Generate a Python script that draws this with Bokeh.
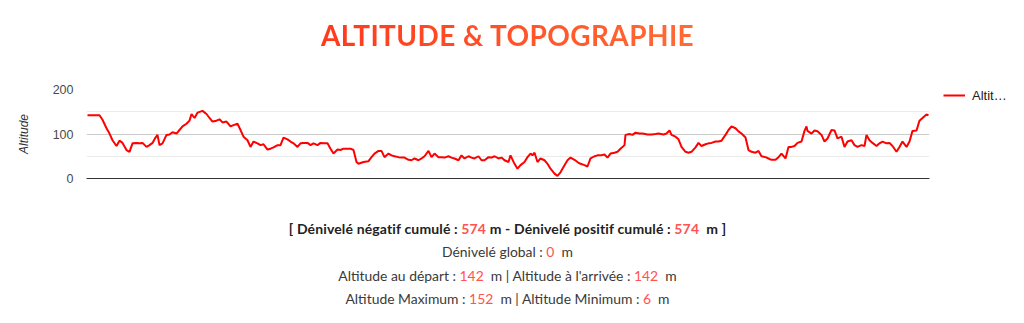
from bokeh.plotting import figure
from bokeh.models import Div, Legend, LegendItem, FixedTicker, Range1d
from bokeh.layouts import column
from bokeh.embed import file_html
from bokeh.resources import INLINE

title_text = "ALTITUDE & TOPOGRAPHIE"
series_name = "Altit…"
y_axis_label = "Altitude"
y_ticks = [0, 100, 200]
y_minor_ticks = [50, 150]

distance_km = [
    0.00, 0.35, 0.60, 0.75, 0.95, 1.10, 1.25, 1.45, 1.60, 1.75, 1.95, 2.10, 2.25, 2.45, 2.60, 2.75,
    2.95, 3.10, 3.25, 3.40, 3.50, 3.60, 3.75, 3.95, 4.10, 4.25, 4.45, 4.60, 4.75, 4.95, 5.10, 5.20,
    5.35, 5.50, 5.75, 5.95, 6.10, 6.25, 6.45, 6.60, 6.75, 6.95, 7.15, 7.30, 7.50, 7.65, 7.80, 8.00,
    8.15, 8.30, 8.50, 8.65, 8.80, 9.00, 9.15, 9.30, 9.50, 9.65, 9.80, 10.00, 10.15, 10.30, 10.50,
    10.65, 10.80, 11.00, 11.15, 11.30, 11.50, 11.65, 11.80, 12.00, 12.15, 12.30, 12.50, 12.65, 12.80,
    13.00, 13.15, 13.30, 13.45, 13.55, 13.80, 14.05, 14.20, 14.35, 14.55, 14.70, 14.85, 15.05, 15.20,
    15.35, 15.55, 15.70, 15.85, 16.05, 16.20, 16.35, 16.55, 16.70, 16.85, 17.05, 17.20, 17.35, 17.55,
    17.70, 17.85, 18.05, 18.20, 18.35, 18.55, 18.70, 18.85, 19.05, 19.20, 19.35, 19.55, 19.70, 19.85,
    20.05, 20.20, 20.35, 20.55, 20.70, 20.85, 21.05, 21.15, 21.35, 21.50, 21.65, 21.85, 22.00, 22.15,
    22.25, 22.35, 22.50, 22.65, 22.85, 23.00, 23.15, 23.35, 23.50, 23.65, 23.85, 24.00, 24.15, 24.35,
    24.50, 24.65, 24.85, 25.00, 25.15, 25.35, 25.50, 25.65, 25.85, 26.00, 26.15, 26.35, 26.50, 26.65,
    26.85, 26.90, 27.10, 27.25, 27.40, 27.60, 27.75, 28.00, 28.20, 28.40, 28.55, 28.80, 28.95, 29.10,
    29.20, 29.40, 29.55, 29.70, 29.90, 30.05, 30.20, 30.40, 30.55, 30.70, 30.90, 31.05, 31.20, 31.40,
    31.55, 31.70, 31.90, 32.05, 32.20, 32.40, 32.55, 32.70, 32.90, 33.05, 33.20, 33.40, 33.55, 33.70,
    33.90, 34.05, 34.20, 34.40, 34.55, 34.70, 34.90, 35.05, 35.20, 35.35, 35.50, 35.70, 35.85, 35.95,
    36.00, 36.20, 36.35, 36.50, 36.70, 36.85, 37.00, 37.20, 37.35, 37.50, 37.70, 37.85, 38.00, 38.20,
    38.35, 38.50, 38.70, 38.85, 38.95, 39.10, 39.25, 39.45, 39.60, 39.75, 39.95, 40.10, 40.25, 40.45,
    40.60, 40.75, 40.95, 41.10, 41.25, 41.45, 41.60, 41.75, 41.95, 42.05,
]

altitude_m = [
    142, 142, 142, 132, 113, 101, 86, 73, 85, 80, 64, 60, 79, 80, 79, 80,
    71, 75, 80, 92, 98, 75, 79, 98, 99, 104, 101, 109, 117, 123, 130, 145,
    136, 148, 152, 145, 136, 128, 130, 133, 126, 128, 117, 120, 123, 109, 94, 86,
    71, 83, 79, 75, 77, 65, 67, 70, 75, 75, 92, 88, 83, 79, 71,
    79, 80, 80, 75, 79, 75, 80, 79, 79, 67, 56, 65, 64, 67,
    67, 67, 64, 37, 33, 37, 39, 48, 56, 62, 62, 48, 56, 52,
    50, 48, 47, 47, 42, 41, 45, 41, 45, 50, 62, 48, 56, 48,
    48, 47, 50, 47, 45, 41, 52, 45, 50, 47, 45, 50, 41, 41,
    48, 47, 50, 45, 47, 41, 37, 52, 33, 22, 30, 37, 48, 56,
    52, 58, 37, 45, 41, 33, 22, 11, 6, 14, 30, 41, 47, 42,
    37, 33, 30, 27, 45, 50, 52, 52, 54, 47, 56, 58, 60, 67,
    75, 98, 100, 98, 103, 101, 101, 99, 99, 100, 101, 99, 101, 108,
    98, 94, 88, 71, 60, 58, 60, 70, 80, 73, 77, 79, 80, 83,
    83, 85, 98, 109, 117, 113, 106, 101, 92, 64, 60, 58, 62, 50,
    48, 45, 42, 42, 48, 56, 45, 71, 71, 73, 80, 83, 107, 117,
    107, 101, 108, 106, 98, 83, 90, 109, 108, 90, 94, 71, 83, 86,
    75, 71, 75, 73, 98, 86, 80, 73, 79, 83, 79, 80, 73, 60,
    71, 83, 71, 83, 107, 108, 130, 136, 144, 142,
]

denivele_negatif = 574
denivele_positif = 574
denivele_global = 0
altitude_depart = 142
altitude_arrivee = 142
altitude_max = 152
altitude_min = 6

RED = "#ff5252"
TXT = "#3a3a3a"

title_div = Div(
    text=(
        "<div style=\"width:1024px;height:70px;box-sizing:border-box;padding-right:9px;"
        "display:flex;align-items:center;justify-content:center;\">"
        "<span style=\"font-family:Lato;font-weight:700;font-size:28px;letter-spacing:0.4px;"
        "background:linear-gradient(90deg,#ff3a1c,#ff6b35);-webkit-background-clip:text;"
        "background-clip:text;color:transparent;display:inline-block;\">"
        + title_text.replace("&", "&amp;") + "</span></div>"
    ),
    width=1024, height=70, margin=0,
)

p = figure(
    width=None, height=None, frame_width=843, frame_height=89,
    output_backend="svg", toolbar_location=None,
    x_range=Range1d(-0.05, 42.1), y_range=Range1d(0, 200),
    min_border_left=86, min_border_right=95, min_border_top=19, min_border_bottom=32,
)
p.outline_line_color = None
p.background_fill_color = "white"
p.border_fill_color = "white"

r = p.line(distance_km, altitude_m, line_color="#ff0000", line_width=2)

p.xgrid.grid_line_color = None
p.xaxis.ticker = FixedTicker(ticks=[])
p.xaxis.major_tick_line_color = None
p.xaxis.minor_tick_line_color = None
p.xaxis.axis_line_color = "#333333"
p.xaxis.axis_line_width = 1

p.yaxis.ticker = FixedTicker(ticks=y_ticks, minor_ticks=y_minor_ticks)
p.yaxis.axis_line_color = None
p.yaxis.major_tick_line_color = None
p.yaxis.minor_tick_line_color = None
p.yaxis.major_label_text_font = "Liberation Sans"
p.yaxis.major_label_text_font_size = "12.5px"
p.yaxis.major_label_text_color = "#4a4a4a"
p.yaxis.major_label_standoff = 7
p.yaxis.axis_label = y_axis_label
p.yaxis.axis_label_text_font = "Liberation Sans"
p.yaxis.axis_label_text_font_style = "italic"
p.yaxis.axis_label_text_font_size = "12px"
p.yaxis.axis_label_text_color = "#333333"
p.yaxis.axis_label_standoff = 19

p.ygrid.grid_line_color = "#cccccc"
p.ygrid.minor_grid_line_color = "#ebebeb"

legend = Legend(
    items=[LegendItem(label=series_name, renderers=[r])],
    location=(14, 73), padding=0, margin=0, border_line_color=None,
    background_fill_alpha=0, glyph_width=22, label_standoff=7,
    label_text_font="Liberation Sans", label_text_font_size="13px", label_text_color="#222222",
)
p.add_layout(legend, "right")

def num(v):
    return f"<span style='color:{RED}'>{v}</span>"

stats_html = (
    f"<div style=\"width:1024px;box-sizing:border-box;padding-right:9px;text-align:center;"
    f"font-family:Lato;font-size:13.9px;color:{TXT};line-height:23.3px;padding-top:7px;\">"
    f"<div style='font-weight:700;color:#222;font-size:14px;letter-spacing:0.14px'>[ Dénivelé négatif cumulé : {num(denivele_negatif)} m - "
    f"Dénivelé positif cumulé : {num(denivele_positif)} &nbsp;m ]</div>"
    f"<div>Dénivelé global : {num(denivele_global)} &nbsp;m</div>"
    f"<div>Altitude au départ : {num(altitude_depart)} &nbsp;m | Altitude à l'arrivée : {num(altitude_arrivee)} &nbsp;m</div>"
    f"<div>Altitude Maximum : {num(altitude_max)} &nbsp;m | Altitude Minimum : {num(altitude_min)} &nbsp;m</div>"
    "</div>"
)
stats_div = Div(text=stats_html, width=1024, height=113, margin=0)

layout = column(title_div, p, stats_div, spacing=0)

open("out.html", "w").write(file_html(layout, INLINE))
